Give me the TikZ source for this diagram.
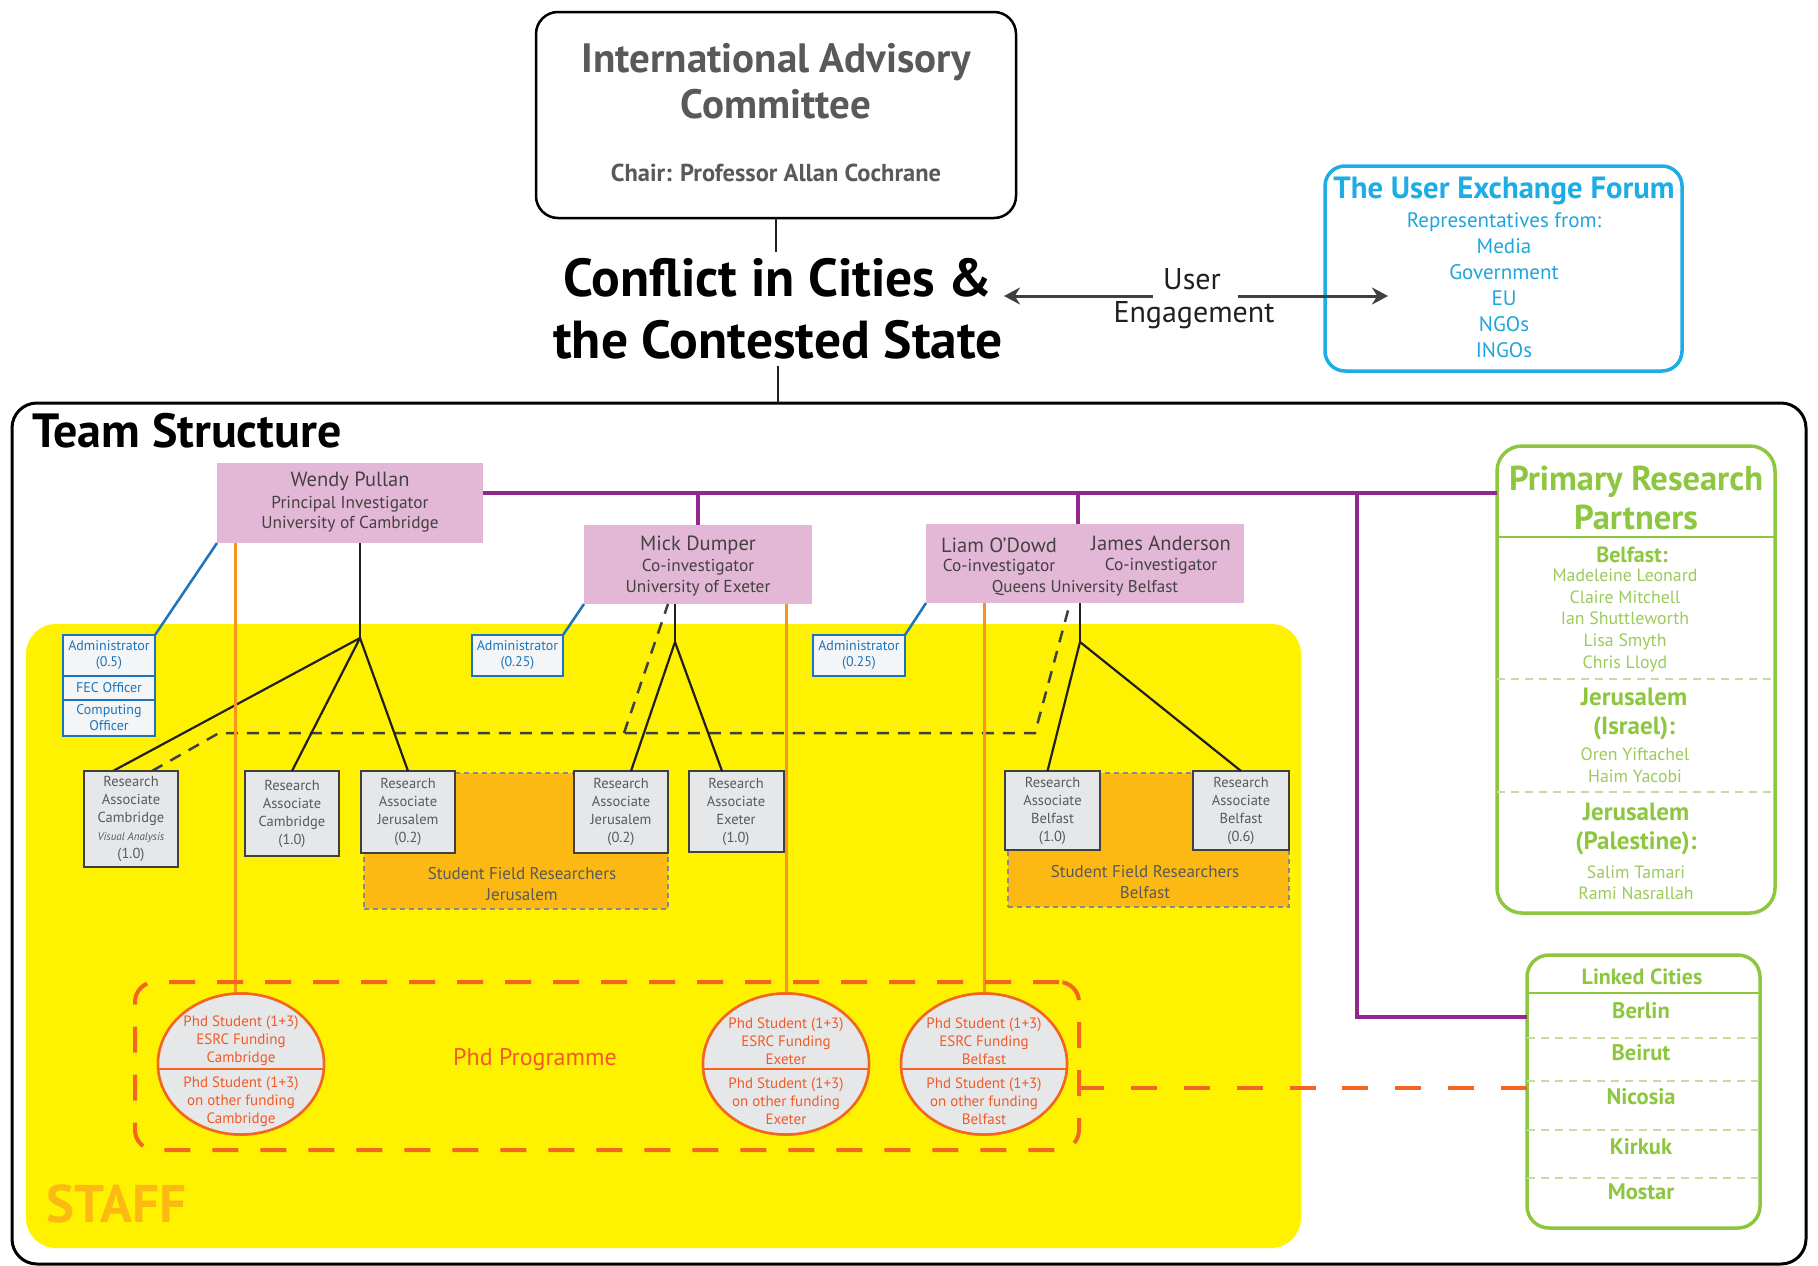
\documentclass[tikz,border=0pt]{standalone}
\usepackage{fontspec}
\setmainfont{PT Sans}
\usetikzlibrary{shapes.geometric,arrows.meta}
\newcommand\fsz[2]{\fontsize{#1pt}{#2pt}\selectfont}
\definecolor{pinkbox}{HTML}{E3B8D6}
\definecolor{purp}{HTML}{92278F}
\definecolor{yel}{HTML}{FFF200}
\definecolor{gold}{HTML}{FDB913}
\definecolor{orln}{HTML}{F7941D}
\definecolor{ordash}{HTML}{F26522}
\definecolor{ortext}{HTML}{F15A29}
\definecolor{grn}{HTML}{8DC63F}
\definecolor{grn2}{HTML}{9BCB5A}
\definecolor{lgrn}{HTML}{C2E09A}
\definecolor{cyan1}{HTML}{1CADE4}
\definecolor{cyan2}{HTML}{1EA5E0}
\definecolor{blu}{HTML}{1C75BC}
\definecolor{adfill}{HTML}{F4F5F6}
\definecolor{rafill}{HTML}{E6E7E8}
\definecolor{gtxt}{HTML}{58595B}
\definecolor{dgray}{HTML}{404041}
\definecolor{sfrborder}{HTML}{8A8A8A}
\definecolor{linek}{HTML}{231F20}
\begin{document}
\begin{tikzpicture}[x=1pt,y=-1pt,
  box/.style={inner sep=0pt, outer sep=0pt},
  pbox/.style={box, fill=pinkbox},
  ptxt/.style={box, text=linek!85, align=center},
  rabox/.style={box, fill=rafill, draw=dgray, line width=2pt, text=gtxt, font=\fsz{14.5}{18}, align=center, minimum width=94pt},
  adbox/.style={box, fill=adfill, draw=blu, line width=2.5pt, text=blu, font=\fsz{14}{16}, align=center, minimum width=92pt},
  sfrbox/.style={box, fill=gold, draw=sfrborder, dash pattern=on 5pt off 4pt, line width=1.5pt},
  sfrtxt/.style={box, text=gtxt, font=\fsz{17}{21}, align=center},
  phdell/.style={box, ellipse, fill=rafill, draw=ordash, line width=2.5pt, minimum width=166pt, minimum height=141pt},
  phdtxt/.style={box, text=ortext, font=\fsz{15}{18}, align=center},
  tline/.style={draw=linek, line width=2.2pt},
  cline/.style={draw=linek, line width=1.6pt},
  bdash/.style={draw=dgray, line width=2.5pt, dash pattern=on 12pt off 9pt},
  oline/.style={draw=orln, line width=3pt},
  bline/.style={draw=blu, line width=2.5pt},
  pline/.style={draw=purp, line width=4pt},
  odash/.style={draw=ordash, line width=4pt, dash pattern=on 26pt off 26.875pt},
  gsep/.style={draw=lgrn, line width=2pt, dash pattern=on 8pt off 6pt},
  gsolid/.style={draw=grn, line width=1.5pt},
  uarrow/.style={draw=dgray, line width=3pt, -{Stealth[length=16pt,width=17pt]}},
  gtitle/.style={box, text=grn, font=\fsz{25}{29}\bfseries, align=center},
  gname/.style={box, text=grn2, font=\fsz{17.8}{21.75}, align=center},
  lcity/.style={box, text=grn, font=\fsz{22.5}{24}\bfseries}
]
\useasboundingbox (0,0) rectangle (1818,1266);
\fill[white] (0,0) rectangle (1818,1266);

% ---------- top
\node[box, draw=black, line width=2.5pt, rounded corners=22pt, minimum width=480pt, minimum height=206pt] (iac) at (776,115) {};
\node[box, text=gtxt, font=\fsz{41}{46}\bfseries, align=center] (iact) at (776,81) {International Advisory\\Committee};
\node[box, text=gtxt, font=\fsz{24.5}{25}\bfseries] (iacc) at (776,173) {Chair: Professor Allan Cochrane};

\node[box, font=\fsz{53.5}{62}\bfseries, align=center, minimum height=114pt] (title) at (778,309) {Conflict in Cities \&\\the Contested State};

\node[box, draw=black, line width=3pt, rounded corners=25pt, minimum width=1794pt, minimum height=861pt] (team) at (909,833.5) {};
\draw[cline] (iac.south) -- (iac.south |- title.north);
\draw[cline] (title.south) -- (title.south |- team.north);

\node[box, draw=cyan1, line width=3.5pt, rounded corners=20pt, minimum width=357pt, minimum height=205pt] (uef) at (1503.5,268.5) {};
\node[box, text=cyan1, font=\fsz{30.7}{34}\bfseries] (ueft) at (1504,191) {The User Exchange Forum};
\node[box, text=cyan2, font=\fsz{21}{26}, align=center] (uefl) at (1504,285) {Representatives from:\\Media\\Government\\EU\\NGOs\\INGOs};

\node[box, font=\fsz{30}{32}, text=linek] (uu) at (1192,279) {User};
\node[box, font=\fsz{30}{32}, text=linek] (ueng) at (1194,315) {Engagement};
\coordinate (aL0) at (1153,296);
\coordinate (aL1) at (1004,296);
\coordinate (aR0) at (1238,296);
\coordinate (aR1) at (1388,296);
\draw[uarrow] (aL0) -- (aL1);
\draw[uarrow] (aR0) -- (aR1);

% ---------- team structure
\node[box, anchor=base west, font=\fsz{48}{50}\bfseries] (teamt) at (32,447) {Team Structure};

\node[box, fill=yel, rounded corners=30pt, minimum width=1275pt, minimum height=624pt] (staff) at (663.5,936) {};
\node[box, anchor=base west, text=gold, font=\fsz{53}{56}\bfseries] (stafft) at (46,1222) {STAFF};

% student field researchers
\node[sfrbox, minimum width=304pt, minimum height=136pt] (sfrJ) at (516,841) {};
\node[sfrtxt] (sfrJt) at (522,884) {Student Field Researchers\\Jerusalem};
\node[sfrbox, minimum width=281pt, minimum height=134pt] (sfrB) at (1148.5,840) {};
\node[sfrtxt] (sfrBt) at (1145,882.5) {Student Field Researchers\\Belfast};

% pink boxes
\node[pbox, minimum width=266pt, minimum height=80pt] (wp) at (350,503) {};
\node[ptxt, font=\fsz{20.5}{22}] (wpn) at (350,481) {Wendy Pullan};
\node[ptxt, font=\fsz{17.3}{20}] (wpr) at (350,514) {Principal Investigator\\University of Cambridge};

\node[pbox, minimum width=228pt, minimum height=79pt] (md) at (698,564.5) {};
\node[ptxt, font=\fsz{20.5}{22}] (mdn) at (698,545) {Mick Dumper};
\node[ptxt, font=\fsz{17.3}{21}] (mdr) at (698,577.5) {Co-investigator\\University of Exeter};

\node[pbox, minimum width=318pt, minimum height=79pt] (lj) at (1085,563.5) {};
\node[ptxt, font=\fsz{20.5}{22}] (ljn1) at (999,545) {Liam O’Dowd};
\node[ptxt, font=\fsz{17.3}{20}] (ljr1) at (999,567) {Co-investigator};
\node[ptxt, font=\fsz{20.5}{22}] (ljn2) at (1161,543) {James Anderson};
\node[ptxt, font=\fsz{17.3}{20}] (ljr2) at (1161,566) {Co-investigator};
\node[ptxt, font=\fsz{17}{20}] (ljr3) at (1085,588) {Queens University Belfast};

% partners boxes
\node[box, draw=grn, line width=3.5pt, rounded corners=25pt, minimum width=278pt, minimum height=467pt] (prp) at (1636,679.5) {};
\node[box, draw=grn, line width=3.5pt, rounded corners=22pt, minimum width=233pt, minimum height=273pt] (lc) at (1643.5,1091.5) {};

% RA boxes
\node[rabox, minimum height=96pt] (raCV) at (131,819) {Research\\Associate\\Cambridge\\{\itshape\fsz{11}{18}Visual Analysis}\\(1.0)};
\node[rabox, minimum height=85pt] (raC) at (292,813.5) {Research\\Associate\\Cambridge\\(1.0)};
\node[rabox, minimum height=82pt] (raJ1) at (408,812) {Research\\Associate\\Jerusalem\\(0.2)};
\node[rabox, minimum height=82pt] (raJ2) at (621,812) {Research\\Associate\\Jerusalem\\(0.2)};
\node[rabox, minimum height=81pt, minimum width=95pt] (raEx) at (736,811.5) {Research\\Associate\\Exeter\\(1.0)};
\node[rabox, minimum height=79pt, minimum width=95pt] (raB1) at (1052.5,810.5) {Research\\Associate\\Belfast\\(1.0)};
\node[rabox, minimum height=79pt, minimum width=96pt] (raB2) at (1241,810.5) {Research\\Associate\\Belfast\\(0.6)};

% admin boxes
\node[adbox, minimum height=41pt] (adC1) at (109,655.5) {Administrator\\(0.5)};
\node[adbox, minimum height=24pt] (adC2) at (109,688) {FEC Officer};
\node[adbox, minimum height=36pt] (adC3) at (109,718) {Computing\\Officer};
\node[adbox, minimum height=41pt, minimum width=91pt] (adM) at (517.5,655.5) {Administrator\\(0.25)};
\node[adbox, minimum height=41pt] (adL) at (859,655.5) {Administrator\\(0.25)};

% phd ellipses
\node[phdell] (phdC) at (241,1064) {};
\node[phdell] (phdE) at (786,1064) {};
\node[phdell] (phdB) at (984,1064) {};

% ---------- connectors
% black dashed network
\coordinate (dj1) at (219,733);
\coordinate (dj2) at (624,733);
\coordinate (dj3) at (1035,733);
\draw[bdash] ([xshift=21pt]raCV.north) -- (dj1) -- (dj3) -- ([xshift=-15pt]lj.south);
\draw[bdash] (dj2) -- ([xshift=-30pt]md.south);

% black trees
\coordinate (wpj) at (360,638);
\draw[tline] (wp.south -| wpj) -- (wpj);
\draw[tline] (wpj) -- ([xshift=-18pt]raCV.north);
\draw[tline] (wpj) -- (raC.north);
\draw[tline] (wpj) -- (raJ1.north);
\coordinate (mdj) at (675,642);
\draw[tline] (md.south -| mdj) -- (mdj);
\draw[tline] (mdj) -- ([xshift=10pt]raJ2.north);
\draw[tline] (mdj) -- ([xshift=-14pt]raEx.north);
\coordinate (ljj) at (1080,642);
\draw[tline] (lj.south -| ljj) -- (ljj);
\draw[tline] (ljj) -- ([xshift=-5pt]raB1.north);
\draw[tline] (ljj) -- (raB2.north);

% blue admin links
\draw[bline] (wp.south west) -- (adC1.north east);
\draw[bline] (md.south west) -- (adM.north east);
\draw[bline] (lj.south west) -- (adL.north east);

% orange lines to phd students
\coordinate (o1) at ([xshift=18pt]wp.south west);
\draw[oline] (o1) -- (o1 |- phdC.north);
\draw[oline] (md.south -| phdE.north) -- (phdE.north);
\draw[oline] (lj.south -| phdB.north) -- (phdB.north);

% purple lines
\coordinate (pA) at ([yshift=10pt]wp.east);
\draw[pline] (pA) -- (pA -| prp.west);
\draw[pline] (pA -| md.north) -- (md.north);
\coordinate (pD) at ([xshift=-7pt]lj.north);
\draw[pline] (pA -| pD) -- (pD);
\coordinate (pC) at (1357,1017);
\draw[pline] (pA -| pC) -- (pC) -- (pC -| lc.west);

% redraw RA/ellipses on top of lines
\node[rabox, minimum height=96pt] (raCVb) at (131,819) {Research\\Associate\\Cambridge\\{\itshape\fsz{11}{18}Visual Analysis}\\(1.0)};
\node[phdell] (phdCb) at (241,1064) {};
\node[phdell] (phdEb) at (786,1064) {};
\node[phdell] (phdBb) at (984,1064) {};

% phd dividers and texts
\foreach \e/\c in {phdC/Cambridge, phdE/Exeter, phdB/Belfast}{
  \draw[draw=ordash, line width=2.5pt] ([yshift=-5pt]\e.west) -- ([yshift=-5pt]\e.east);
  \node[phdtxt] (\e-top) at ([yshift=23pt]\e.center) {Phd Student (1+3)\\ESRC Funding\\\c};
  \node[phdtxt] (\e-bot) at ([yshift=-37.5pt]\e.center) {Phd Student (1+3)\\on other funding\\\c};
}

% phd programme box
\node[box, draw=ordash, line width=4pt, dash pattern=on 26pt off 22pt, rounded corners=20pt, minimum width=944pt, minimum height=168pt] (phd) at (607,1066) {};
\node[box, text=ortext, font=\fsz{24}{26}] (phdt) at (535,1060) {Phd Programme};
\coordinate (oD) at (phd.east |- 0,1088);
\draw[odash] (oD -| lc.west) -- (oD);

% ---------- partners text
\node[box, text=grn, font=\fsz{34.5}{39}\bfseries, align=center] (prpt) at (1636,497.5) {Primary Research\\Partners};
\draw[gsolid] (prp.west |- 0,537) -- (prp.east |- 0,537);
\node[box, text=grn, font=\fsz{22}{26}\bfseries] (prpb) at (1632,555) {Belfast:};
\node[gname] (prpbn) at (1625,620.5) {Madeleine Leonard\\Claire Mitchell\\Ian Shuttleworth\\Lisa Smyth\\Chris Lloyd};
\draw[gsep] (prp.west |- 0,679) -- (prp.east |- 0,679);
\node[gtitle] (prpj) at (1634,713.5) {Jerusalem\\(Israel):};
\node[gname, font=\fsz{17.8}{22}] (prpjn) at (1635,765) {Oren Yiftachel\\Haim Yacobi};
\draw[gsep] (prp.west |- 0,792) -- (prp.east |- 0,792);
\node[gtitle] (prpp) at (1636,828.5) {Jerusalem\\(Palestine):};
\node[gname, font=\fsz{17.8}{21}] (prppn) at (1636,882.5) {Salim Tamari\\Rami Nasrallah};

% linked cities
\node[box, text=grn, font=\fsz{22}{24}\bfseries] (lct) at (1642,977) {Linked Cities};
\draw[gsolid] (lc.west |- 0,993) -- (lc.east |- 0,993);
\node[lcity] (lc1) at (1641,1011) {Berlin};
\draw[gsep] (lc.west |- 0,1038) -- (lc.east |- 0,1038);
\node[lcity] (lc2) at (1641,1053) {Beirut};
\draw[gsep] (lc.west |- 0,1081) -- (lc.east |- 0,1081);
\node[lcity] (lc3) at (1641,1097) {Nicosia};
\draw[gsep] (lc.west |- 0,1130) -- (lc.east |- 0,1130);
\node[lcity] (lc4) at (1641,1147) {Kirkuk};
\draw[gsep] (lc.west |- 0,1178) -- (lc.east |- 0,1178);
\node[lcity] (lc5) at (1641,1192) {Mostar};
\end{tikzpicture}
\end{document}
